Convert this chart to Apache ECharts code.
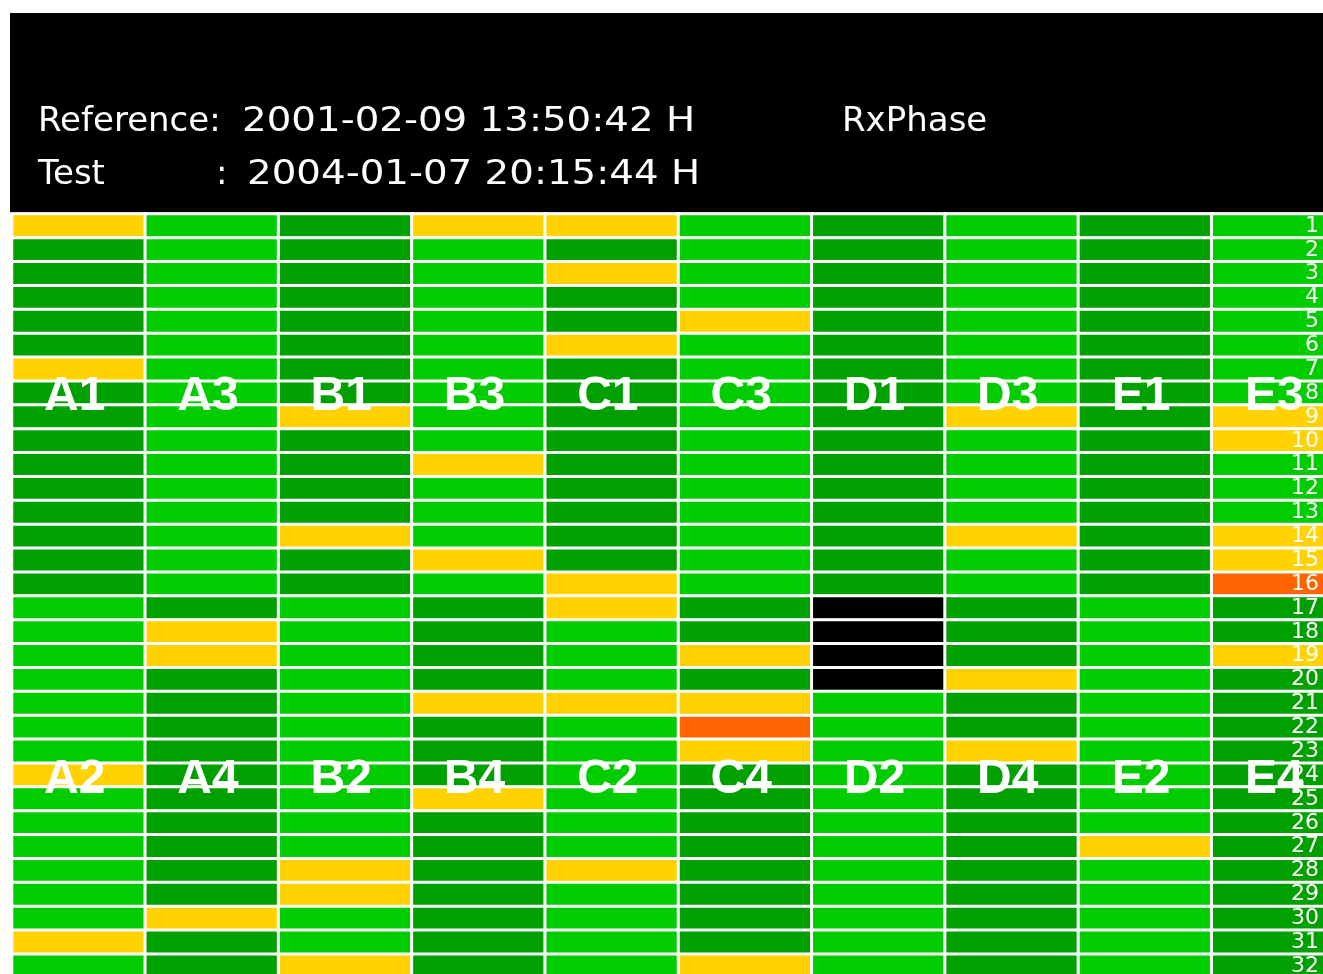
<!DOCTYPE html>
<html>
<head>
<meta charset="utf-8">
<script src="https://cdn.jsdelivr.net/npm/echarts@6/dist/echarts.min.js"></script>
<style>
html,body{margin:0;padding:0;overflow:hidden;background:#ffffff;width:1323px;height:974px}
#c{width:1346px;height:980px}
</style>
</head>
<body>
<div id="c"></div>
<script>
// ---- header texts ----
const refLabel = 'Reference:';
const refTime = '2001-02-09 13:50:42 H';
const testLabel = 'Test';
const testColon = ':';
const testTime = '2004-01-07 20:15:44 H';
const quantityName = 'RxPhase';

// ---- categories ----
const columns = ['A1/A2','A3/A4','B1/B2','B3/B4','C1/C2','C3/C4','D1/D2','D3/D4','E1/E2','E3/E4'];
const topNames = ['A1','A3','B1','B3','C1','C3','D1','D3','E1','E3'];
const bottomNames = ['A2','A4','B2','B4','C2','C4','D2','D4','E2','E4'];
const rowLabels = ['1','2','3','4','5','6','7','8','9','10','11','12','13','14','15','16',
                   '17','18','19','20','21','22','23','24','25','26','27','28','29','30','31','32'];

// ---- status codes per row (1..32): 0 dark green, 1 light green, 2 yellow, 3 orange, 4 black ----
const colA1A2 = [2,0,0,0,0,0,2,0,0,0,0,0,0,0,0,0, 1,1,1,1,1,1,1,2,1,1,1,1,1,1,2,1];
const colA3A4 = [1,1,1,1,1,1,1,1,1,1,1,1,1,1,1,1, 0,2,2,0,0,0,0,0,0,0,0,0,0,2,0,0];
const colB1B2 = [0,0,0,0,0,0,0,0,2,0,0,0,0,2,0,0, 1,1,1,1,1,1,1,1,1,1,1,2,2,1,1,2];
const colB3B4 = [2,1,1,1,1,1,1,1,1,1,2,1,1,1,2,1, 0,0,0,0,2,0,0,0,2,0,0,0,0,0,0,0];
const colC1C2 = [2,0,2,0,0,2,0,0,0,0,0,0,0,0,0,2, 2,1,1,1,2,1,1,1,1,1,1,2,1,1,1,1];
const colC3C4 = [1,1,1,1,2,1,1,1,1,1,1,1,1,1,1,1, 0,0,2,0,2,3,2,0,0,0,0,0,0,0,0,2];
const colD1D2 = [0,0,0,0,0,0,0,0,0,0,0,0,0,0,0,0, 4,4,4,4,1,1,1,1,1,1,1,1,1,1,1,1];
const colD3D4 = [1,1,1,1,1,1,1,1,2,1,1,1,1,2,1,1, 0,0,0,2,0,0,2,0,0,0,0,0,0,0,0,0];
const colE1E2 = [0,0,0,0,0,0,0,0,0,0,0,0,0,0,0,0, 1,1,1,1,1,1,1,1,1,1,2,1,1,1,1,1];
const colE3E4 = [1,1,1,1,1,1,1,1,2,2,1,1,1,2,2,3, 0,0,2,0,0,0,0,0,0,0,0,0,0,0,0,0];

const statusColors = ['#00a000','#00cc00','#ffd200','#ff6400','#000000'];

const allCols = [colA1A2,colA3A4,colB1B2,colB3B4,colC1C2,colC3C4,colD1D2,colD3D4,colE1E2,colE3E4];
const heatData = [];
allCols.forEach((col, ci) => col.forEach((v, ri) => heatData.push([ci, ri, v])));

const topLabelRow = 7;     // row 8
const bottomLabelRow = 23; // row 24
const topLabelData = topNames.map((n, i) => [i, topLabelRow, n]);
const bottomLabelData = bottomNames.map((n, i) => [i, bottomLabelRow, n]);

const bigLabel = (dy) => ({
  show: true, position: 'inside', formatter: p => p.data[2], offset: [-4, dy],
  color: '#ffffff', opacity: 1, fontSize: 48, fontWeight: 'bold', fontFamily: 'Liberation Sans'
});

const chart = echarts.init(document.getElementById('c'), null, {renderer: 'canvas'});
chart.setOption({
  backgroundColor: '#ffffff',
  animation: false,
  grid: {left: 12, top: 214, width: 1333, height: 764, containLabel: false},
  xAxis: {
    type: 'category', data: columns, show: false
  },
  yAxis: {
    type: 'category', data: rowLabels, inverse: true, position: 'right',
    axisLine: {show: false}, axisTick: {show: false}, splitLine: {show: false},
    axisLabel: {
      inside: true, margin: 26, color: '#ffffff', fontSize: 22,
      fontFamily: 'DejaVu Sans', interval: 0
    },
    z: 10
  },
  visualMap: {
    show: false, type: 'piecewise', dimension: 2, seriesIndex: 0,
    pieces: statusColors.map((c, i) => ({value: i, color: c}))
  },
  graphic: [
    {type: 'rect', z: -10, shape: {x: 10, y: 13, width: 1340, height: 199.5}, style: {fill: '#000000'}},
    {type: 'text', x: 38, y: 122, style: {text: refLabel, fill: '#ffffff', font: '34px "DejaVu Sans"', textVerticalAlign: 'middle'}},
    {type: 'text', x: 242, y: 122, scaleX: 1.14, style: {text: refTime, fill: '#ffffff', font: '34px "DejaVu Sans"', textVerticalAlign: 'middle'}},
    {type: 'text', x: 842, y: 122, style: {text: quantityName, fill: '#ffffff', font: '34px "DejaVu Sans"', textVerticalAlign: 'middle'}},
    {type: 'text', x: 38, y: 175, style: {text: testLabel, fill: '#ffffff', font: '34px "DejaVu Sans"', textVerticalAlign: 'middle'}},
    {type: 'text', x: 216, y: 175, style: {text: testColon, fill: '#ffffff', font: '34px "DejaVu Sans"', textVerticalAlign: 'middle'}},
    {type: 'text', x: 247, y: 175, scaleX: 1.14, style: {text: testTime, fill: '#ffffff', font: '34px "DejaVu Sans"', textVerticalAlign: 'middle'}}
  ],
  series: [
    {
      type: 'heatmap', data: heatData,
      itemStyle: {borderColor: '#ffffff', borderWidth: 3},
      emphasis: {disabled: true}
    },
    {
      type: 'scatter', data: topLabelData, symbolSize: 1,
      itemStyle: {color: 'rgba(0,0,0,0)', opacity: 1}, z: 5,
      emphasis: {disabled: true},
      label: bigLabel(4)
    },
    {
      type: 'scatter', data: bottomLabelData, symbolSize: 1,
      itemStyle: {color: 'rgba(0,0,0,0)', opacity: 1}, z: 5,
      emphasis: {disabled: true},
      label: bigLabel(5)
    }
  ]
});
</script>
</body>
</html>
